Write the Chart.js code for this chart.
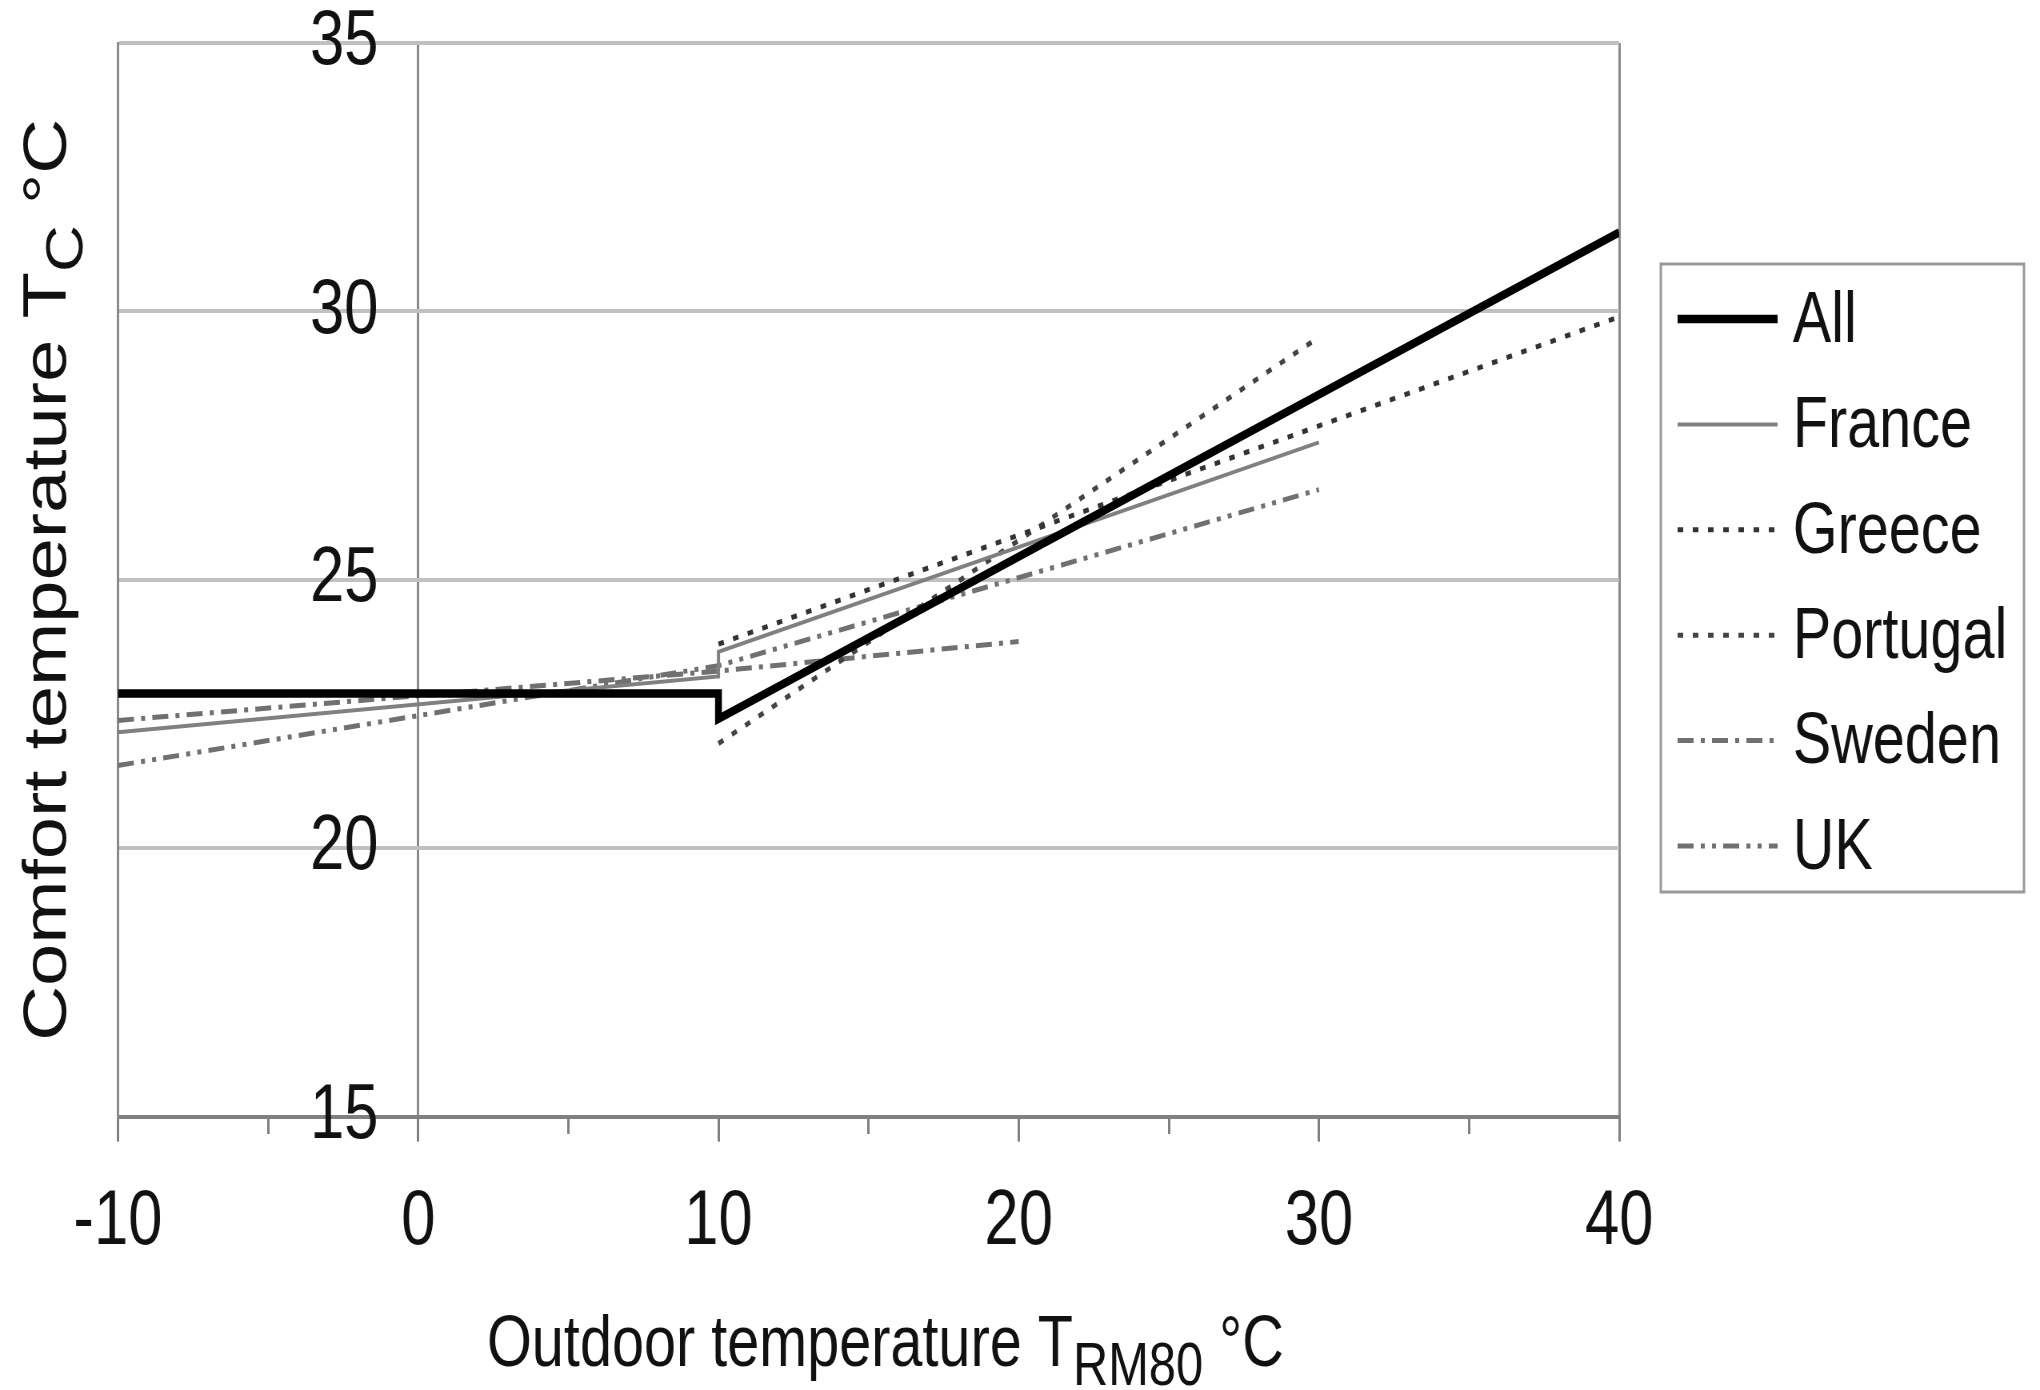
<!DOCTYPE html>
<html>
<head>
<meta charset="utf-8">
<script src="https://cdn.jsdelivr.net/npm/chart.js@4.4.1/dist/chart.umd.min.js"></script>
<style>
html, body { margin: 0; padding: 0; background: #fff; overflow: hidden; }
</style>
</head>
<body>
<canvas id="graphique" width="2550" height="1390" style="width:2040px;height:1390px"></canvas>
<script>
// valeurs (Tc en fonction de Trm80)
const allX = [-10, 10, 10, 40];
const allY = [22.88, 22.88, 22.41, 31.47];
const franceX = [-10, 10, 10, 30];
const franceY = [22.16, 23.2, 23.66, 27.56];
const greeceX = [10, 40];
const greeceY = [23.8, 29.9];
const portugalX = [10, 30];
const portugalY = [21.95, 29.52];
const swedenX = [-10, 10, 20];
const swedenY = [22.38, 23.3, 23.85];
const ukX = [-10, 10, 30];
const ukY = [21.54, 23.4, 26.68];

const xTicks = [-10, 0, 10, 20, 30, 40];
const yTicks = [15, 20, 25, 30, 35];

const police = '"Liberation Sans", Arial, sans-serif';

function points(xs, ys) {
    return xs.map((x, i) => ({ x: x, y: ys[i] }));
}

function serie(label, xs, ys, couleur, epaisseur, tirets) {
    return {
        label: label,
        data: points(xs, ys),
        borderColor: couleur,
        borderWidth: epaisseur,
        borderDash: tirets,
        borderCapStyle: "butt",
        borderJoinStyle: "miter",
        showLine: true,
        pointRadius: 0,
        fill: false
    };
}

// texte avec indice (T_C, T_RM80)
function texteIndice(ctx, morceaux, cx, y, taille) {
    let total = 0;
    morceaux.forEach(m => {
        ctx.font = (m.sub ? Math.round(taille * 0.85) : taille) + "px " + police;
        total += ctx.measureText(m.t).width;
    });
    let x = cx - total / 2;
    ctx.textAlign = "left";
    ctx.textBaseline = "alphabetic";
    morceaux.forEach(m => {
        ctx.font = (m.sub ? Math.round(taille * 0.85) : taille) + "px " + police;
        ctx.fillText(m.t, x, m.sub ? y + taille * 0.27 : y);
        x += ctx.measureText(m.t).width;
    });
}

const titresAxes = {
    id: "titresAxes",
    afterDraw(chart) {
        const { ctx, chartArea } = chart;
        ctx.save();
        ctx.fillStyle = "#111";
        texteIndice(ctx, [{ t: "Outdoor temperature T" }, { t: "RM80", sub: true }, { t: " °C" }],
            (chartArea.left + chartArea.right) / 2 + 21, 1366, 72);
        ctx.translate(82, (chartArea.top + chartArea.bottom) / 2);
        ctx.rotate(-Math.PI / 2);
        texteIndice(ctx, [{ t: "Comfort temperature T" }, { t: "C", sub: true }, { t: " °C" }], 0, 0, 76);
        ctx.restore();
    }
};

const legendeCadre = {
    id: "legendeCadre",
    afterDraw(chart) {
        const { ctx, chartArea } = chart;
        const gauche = chartArea.right + 52;
        const haut = 264;
        ctx.save();
        ctx.strokeStyle = "#999";
        ctx.lineWidth = 3;
        ctx.strokeRect(gauche, haut, 454, 628);
        chart.data.datasets.forEach((ds, i) => {
            const y = haut + 55 + i * 105.4;
            ctx.beginPath();
            ctx.strokeStyle = ds.borderColor;
            ctx.lineWidth = ds.borderWidth;
            ctx.setLineDash(ds.borderDash || []);
            ctx.lineCap = "butt";
            ctx.moveTo(gauche + 21, y);
            ctx.lineTo(gauche + 146, y);
            ctx.stroke();
            ctx.setLineDash([]);
            ctx.fillStyle = "#111";
            ctx.font = "72px " + police;
            ctx.textAlign = "left";
            ctx.textBaseline = "middle";
            ctx.fillText(ds.label, gauche + 165, y + 3);
        });
        ctx.restore();
    }
};

const ctx = document.getElementById("graphique");
new Chart(ctx, {
    type: "scatter",
    data: {
        datasets: [
            serie("All", allX, allY, "#000", 8.5, []),
            serie("France", franceX, franceY, "#808080", 4, []),
            serie("Greece", greeceX, greeceY, "#333", 5, [7, 12]),
            serie("Portugal", portugalX, portugalY, "#444", 5, [7, 12]),
            serie("Sweden", swedenX, swedenY, "#707070", 5, [20, 9, 5, 9]),
            serie("UK", ukX, ukY, "#707070", 5, [20, 9, 5, 9, 5, 9])
        ]
    },
    options: {
        responsive: false,
        devicePixelRatio: 1,
        animation: false,
        layout: {
            padding: { left: 147.5, right: 526, top: 43, bottom: 86 }
        },
        plugins: {
            legend: { display: false },
            tooltip: { enabled: false }
        },
        scales: {
            x: {
                type: "linear",
                position: "bottom",
                min: xTicks[0],
                max: xTicks[xTicks.length - 1],
                ticks: {
                    stepSize: 5,
                    autoSkip: false,
                    maxRotation: 0,
                    padding: 35,
                    color: "#111",
                    font: { family: police, size: 77, lineHeight: 1.2 },
                    callback: v => (xTicks.includes(v) ? v : "")
                },
                grid: {
                    color: c => (c.tick && (c.tick.value === 0 || c.tick.value === 40 || c.tick.value === -10)) ? "#8a8a8a" : "rgba(0,0,0,0)",
                    lineWidth: 3,
                    tickLength: 25,
                    tickColor: "#808080",
                    tickWidth: 3,
                    tickBorderDash: c => (c.tick && xTicks.includes(c.tick.value)) ? [] : [15, 100]
                },
                border: { display: true, color: "#808080", width: 4 }
            },
            y: {
                type: "linear",
                position: "left",
                min: yTicks[0],
                max: yTicks[yTicks.length - 1],
                ticks: {
                    stepSize: 5,
                    mirror: true,
                    padding: 240,
                    color: "#111",
                    font: { family: police, size: 77, lineHeight: 1 }
                },
                grid: {
                    color: c => (c.tick && c.tick.value === 15) ? "rgba(0,0,0,0)" : "#c0c0c0",
                    lineWidth: 4,
                    drawTicks: false
                },
                border: { display: true, color: "#8a8a8a", width: 3 },
                // les étiquettes sont dans la zone du graphique : pas de place à réserver
                afterFit: (scale) => {
                    scale.width = 0;
                    scale.paddingTop = 0;
                    scale.paddingBottom = 0;
                }
            }
        }
    },
    plugins: [titresAxes, legendeCadre]
});
</script>
</body>
</html>
